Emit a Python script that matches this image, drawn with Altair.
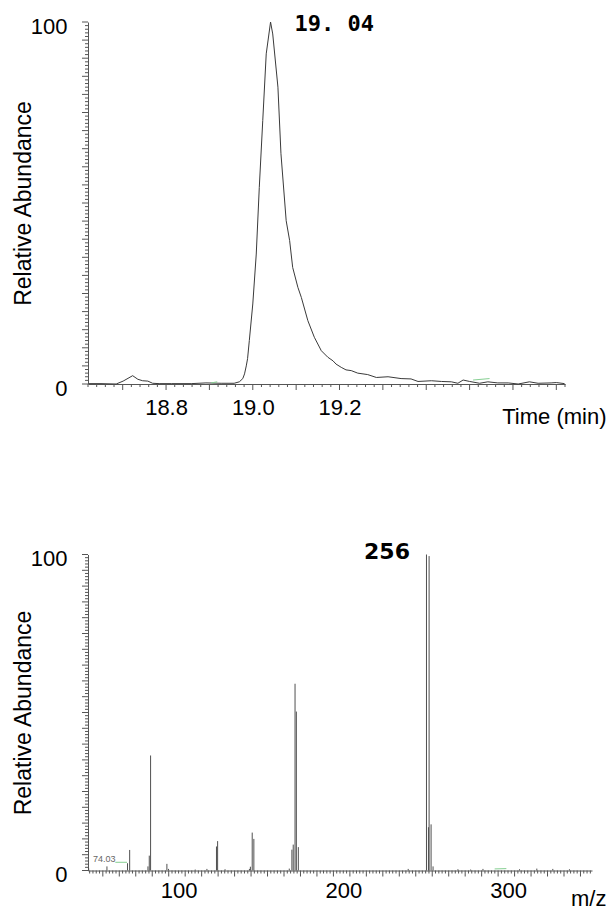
import altair as alt
import pandas as pd

# ---------------- chromatogram (top) ----------------
rt_min = [18.622, 18.650, 18.685, 18.701, 18.723, 18.735, 18.746, 18.758, 18.769, 18.784,
          18.812, 18.858, 18.892, 18.927, 18.957, 18.969, 18.977, 18.981, 18.985, 18.988,
          18.992, 19.000, 19.008, 19.015, 19.023, 19.031, 19.041, 19.046, 19.058, 19.065,
          19.077, 19.085, 19.092, 19.104, 19.112, 19.127, 19.142, 19.158, 19.173, 19.185,
          19.192, 19.204, 19.215, 19.227, 19.242, 19.265, 19.285, 19.312, 19.342, 19.365,
          19.381, 19.412, 19.435, 19.458, 19.473, 19.485, 19.500, 19.523, 19.542, 19.565,
          19.589, 19.612, 19.638, 19.658, 19.688, 19.700, 19.719]
rel_abund = [0.1, 0.1, 0.0, 0.8, 2.3, 1.3, 0.9, 0.8, 0.2, 0.1,
             0.1, 0.1, 0.3, 0.2, 0.2, 0.6, 1.5, 2.8, 5.0, 7.0,
             12.0, 22.1, 35.9, 54.3, 72.8, 91.2, 100.0, 96.7, 82.0, 63.6,
             45.1, 39.6, 32.2, 26.7, 23.9, 17.5, 12.9, 9.2, 7.4, 6.4,
             5.5, 4.6, 3.9, 3.7, 3.0, 2.6, 1.8, 2.0, 1.5, 1.4,
             0.7, 0.9, 0.7, 0.6, 0.2, 1.1, 0.7, 0.2, 0.6, 0.3,
             0.3, 0.0, 0.6, 0.2, 0.3, 0.4, 0.1]

peak_rt_label = ["19. 04"]
peak_rt = [19.041]
peak_rt_abund = [100.0]

green_rt = [18.904, 18.918, 19.508, 19.546]
green_rt_abund = [0.3, 0.6, 1.1, 1.5]
green_rt_seg = [1, 1, 2, 2]

rt_label_values = [18.8, 19.0, 19.2]
rt_minor_ticks = [18.62, 18.64, 18.66, 18.68, 18.72, 18.74, 18.76, 18.78, 18.82, 18.84, 18.86, 18.88,
                  18.92, 18.94, 18.96, 18.98, 19.02, 19.04, 19.06, 19.08, 19.12, 19.14, 19.16, 19.18,
                  19.22, 19.24, 19.26, 19.28, 19.32, 19.34, 19.36, 19.38, 19.42, 19.44, 19.46, 19.48,
                  19.52, 19.54, 19.56, 19.58, 19.62, 19.64, 19.66, 19.68, 19.72]
rt_major_ticks = [18.7, 18.8, 18.9, 19.0, 19.1, 19.2, 19.3, 19.4, 19.5, 19.6, 19.7]

# ---------------- mass spectrum (bottom) ----------------
ms_mz = [51.4, 62.5, 75.0, 76.3, 87.4, 88.2, 89.0, 98.9, 99.9, 116.1,
         123.2, 129.0, 129.7, 134.2, 149.0, 149.6, 150.7, 151.7, 173.2, 174.8,
         175.6, 176.7, 177.5, 178.7, 245.4, 256.5, 257.7, 258.1, 259.3, 260.5,
         275.6, 283.3, 290.8, 313.0, 323.5, 333.2, 343.3]
ms_int = [0.7, 1.3, 2.3, 6.5, 1.3, 4.7, 36.4, 2.1, 0.5, 0.3,
          0.5, 7.6, 9.3, 0.4, 0.5, 1.2, 12.0, 10.0, 0.6, 6.6,
          8.2, 59.1, 50.3, 7.4, 0.5, 100.0, 13.7, 99.5, 14.6, 1.3,
          0.4, 0.3, 0.5, 0.4, 0.6, 0.5, 0.4]

ms_big_label = ["256"]
ms_big_mz = [256.5]
ms_big_int = [100.0]
ms_small_label = ["74.03"]
ms_small_mz = [75.0]
ms_small_int = [2.3]

green_mz = [67.6, 74.7, 297.9, 305.0]
green_mz_int = [2.6, 2.6, 0.5, 0.6]
green_mz_seg = [1, 1, 2, 2]

mz_label_values = [100, 200, 300]
mz_minor_ticks = [v for v in range(52, 357, 2) if v % 10 != 0]
mz_major_ticks = [v for v in range(60, 357, 10)]

abund_label_values = [0, 100]
abund_minor_ticks = [v for v in range(0, 101) if v % 5 != 0]
abund_major_ticks = [v for v in range(0, 101, 5)]

FONT = "Liberation Sans"
AX = "#555555"
LINE = "#3a3a3a"
GREEN = "#86cf92"


def y_axis(h, label_offset):
    return alt.Axis(
        values=abund_label_values,
        ticks=False,
        domainColor=AX,
        labelFont=FONT,
        labelFontSize=22,
        labelColor="black",
        labelPadding=21,
        labelOffset=label_offset,
        labelOverlap=False,
        grid=False,
        title="Relative Abundance",
        titleFont=FONT,
        titleFontSize=23,
        titleFontWeight="normal",
        titleColor="black",
        titleX=-65,
        titleY=h / 2,
        titleBaseline="middle",
        titleAlign="center",
        titleAngle=270,
    )


def tick_rules(df, x_enc, y_enc, horizontal, length, plot_h):
    if horizontal:
        return alt.Chart(df).mark_rule(color=AX, strokeWidth=1).encode(
            y=y_enc, x=alt.value(-length), x2=alt.value(0))
    return alt.Chart(df).mark_rule(color=AX, strokeWidth=1).encode(
        x=x_enc, y=alt.value(plot_h), y2=alt.value(plot_h + length))


# ---------------- top chart ----------------
TW, TH = 477, 362
x_top = alt.X(
    "rt:Q",
    scale=alt.Scale(domain=[18.62, 19.72], nice=False, zero=False),
    axis=alt.Axis(
        values=rt_label_values,
        format=".1f",
        ticks=False,
        domainColor=AX,
        labelFont=FONT,
        labelFontSize=22,
        labelColor="black",
        labelPadding=13,
        labelOverlap=False,
        labelFlush=False,
        labelBaseline="top",
        grid=False,
        title="Time (min)",
        titleFont=FONT,
        titleFontSize=22,
        titleFontWeight="normal",
        titleColor="black",
        titleX=518,
        titleY=39,
        titleAlign="right",
        titleBaseline="alphabetic",
    ),
)
y_top = alt.Y("abund:Q", scale=alt.Scale(domain=[0, 100], nice=False), axis=y_axis(TH, 4))

top_line = alt.Chart(pd.DataFrame({"rt": rt_min, "abund": rel_abund})).mark_line(
    color=LINE, strokeWidth=1).encode(x=x_top, y=y_top)
top_green = alt.Chart(pd.DataFrame({"rt": green_rt, "abund": green_rt_abund, "seg": green_rt_seg})).mark_line(
    color=GREEN, strokeWidth=1).encode(x=x_top, y=y_top, detail="seg:N")
top_text = alt.Chart(pd.DataFrame({"rt": peak_rt, "abund": peak_rt_abund, "label": peak_rt_label})).mark_text(
    align="left", baseline="alphabetic", dx=24, dy=8.5, font="DejaVu Sans Mono", fontSize=22,
    fontWeight="bold", color="black").encode(x=x_top, y=y_top, text="label:N")
top_xminor = tick_rules(pd.DataFrame({"rt": rt_minor_ticks}), x_top, None, False, 3, TH)
top_xmajor = tick_rules(pd.DataFrame({"rt": rt_major_ticks}), x_top, None, False, 6, TH)
top_yminor = tick_rules(pd.DataFrame({"abund": abund_minor_ticks}), None, y_top, True, 3, TH)
top_ymajor = tick_rules(pd.DataFrame({"abund": abund_major_ticks}), None, y_top, True, 6, TH)

top = alt.layer(top_line, top_green, top_text, top_xminor, top_xmajor, top_yminor, top_ymajor).properties(
    width=TW, height=TH)

# ---------------- bottom chart ----------------
BW, BH = 504, 316
x_bot = alt.X(
    "mz:Q",
    scale=alt.Scale(domain=[51, 357], nice=False, zero=False),
    axis=alt.Axis(
        values=mz_label_values,
        ticks=False,
        domainColor=AX,
        labelFont=FONT,
        labelFontSize=22,
        labelColor="black",
        labelPadding=10,
        labelOffset=10,
        labelOverlap=False,
        labelFlush=False,
        labelBaseline="top",
        grid=False,
        title="m/z",
        titleFont=FONT,
        titleFontSize=22,
        titleFontWeight="normal",
        titleColor="black",
        titleX=518,
        titleY=35,
        titleAlign="right",
        titleBaseline="alphabetic",
    ),
)
y_bot = alt.Y("abund:Q", scale=alt.Scale(domain=[0, 100], nice=False), axis=y_axis(BH, 4))

ms_bars = alt.Chart(pd.DataFrame({"mz": ms_mz, "abund": ms_int})).mark_rule(
    color="#505050", strokeWidth=1).encode(x=x_bot, y=y_bot, y2=alt.datum(0))
ms_green = alt.Chart(pd.DataFrame({"mz": green_mz, "abund": green_mz_int, "seg": green_mz_seg})).mark_line(
    color=GREEN, strokeWidth=1).encode(x=x_bot, y=y_bot, detail="seg:N")
ms_big = alt.Chart(pd.DataFrame({"mz": ms_big_mz, "abund": ms_big_int, "label": ms_big_label})).mark_text(
    align="right", baseline="alphabetic", dx=-16.5, dy=4.3, font="DejaVu Sans", fontSize=22,
    fontWeight="bold", color="black").encode(x=x_bot, y=y_bot, text="label:N")
ms_small = alt.Chart(pd.DataFrame({"mz": ms_small_mz, "abund": ms_small_int, "label": ms_small_label})).mark_text(
    align="right", baseline="alphabetic", dx=-12, dy=-1.5, font=FONT, fontSize=9,
    color="#666666").encode(x=x_bot, y=y_bot, text="label:N")
bot_xminor = tick_rules(pd.DataFrame({"mz": mz_minor_ticks}), x_bot, None, False, 3, BH)
bot_xmajor = tick_rules(pd.DataFrame({"mz": mz_major_ticks}), x_bot, None, False, 6, BH)
bot_yminor = tick_rules(pd.DataFrame({"abund": abund_minor_ticks}), None, y_bot, True, 3, BH)
bot_ymajor = tick_rules(pd.DataFrame({"abund": abund_major_ticks}), None, y_bot, True, 6, BH)

bottom = alt.layer(ms_bars, ms_green, ms_big, ms_small, bot_xminor, bot_xmajor, bot_yminor, bot_ymajor).properties(
    width=BW, height=BH)

chart = alt.vconcat(top, bottom, spacing=170.5, bounds="flush").properties(
    padding={"left": 4, "top": 4, "right": 0, "bottom": 0}
).configure(font=FONT).configure_view(stroke=None)

chart.save("out.html", embed_options={"renderer": "svg", "actions": False})
